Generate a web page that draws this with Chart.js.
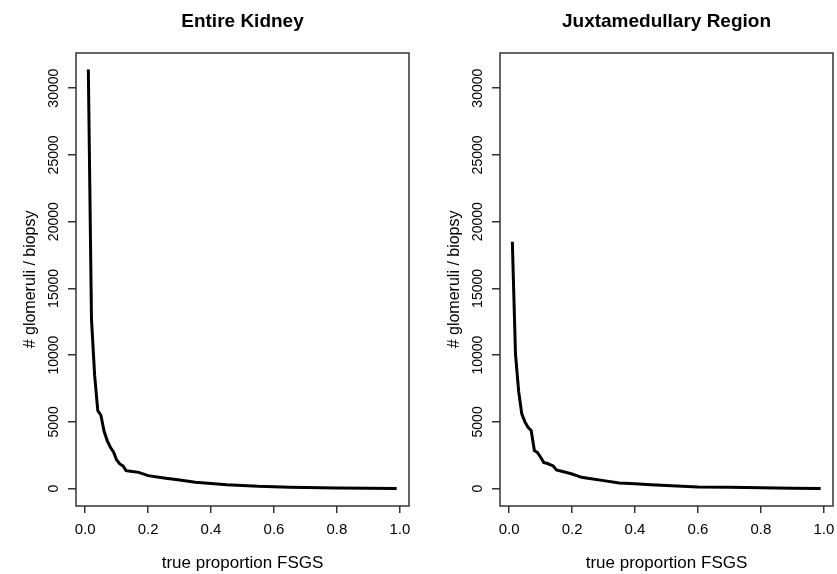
<!DOCTYPE html>
<html>
<head>
<meta charset="utf-8">
<script src="https://cdn.jsdelivr.net/npm/chart.js"></script>
<style>
  body { margin: 0; background: #fff; }
  canvas { position: absolute; top: 0; }
  #kidneyChart { left: 0; }
  #juxtaChart { left: 424px; }
</style>
</head>
<body>
<canvas id="kidneyChart" width="418" height="574"></canvas>
<canvas id="juxtaChart" width="413" height="574"></canvas>
<script>
// ENTIRE KIDNEY
const kidneyP = [0.01, 0.02, 0.03, 0.04, 0.05, 0.06, 0.07, 0.08, 0.09, 0.10, 0.11, 0.12, 0.13, 0.15, 0.17, 0.20,
  0.25, 0.30, 0.35, 0.40, 0.45, 0.50, 0.55, 0.60, 0.65, 0.70, 0.80, 0.90, 0.99];
const kidneyN = [31400, 12700, 8500, 5850, 5500, 4300, 3600, 3100, 2750, 2150, 1850, 1700, 1350, 1280, 1220, 975,
  800, 640, 480, 390, 300, 240, 180, 150, 110, 80, 50, 30, 15];

// JUXTAMEDULLARY REGION
const juxtaP = [0.01, 0.02, 0.03, 0.04, 0.05, 0.06, 0.07, 0.08, 0.09, 0.10, 0.11, 0.12, 0.13, 0.14, 0.15, 0.17, 0.20,
  0.23, 0.25, 0.30, 0.35, 0.40, 0.45, 0.50, 0.55, 0.60, 0.70, 0.80, 0.90, 0.99];
const juxtaN = [18500, 10100, 7300, 5600, 5000, 4600, 4350, 2850, 2700, 2350, 1950, 1900, 1800, 1700, 1400, 1280, 1100,
  850, 780, 600, 420, 360, 300, 230, 180, 120, 100, 60, 30, 15];

const xTicks = [0, 0.2, 0.4, 0.6, 0.8, 1.0];
const yTicks = [0, 5000, 10000, 15000, 20000, 25000, 30000];

const FONT = "'Liberation Sans', Arial, Helvetica, sans-serif";

// R style box round the plot region
const boxPlugin = {
  id: 'box',
  afterDraw(chart) {
    const ctx = chart.ctx;
    const a = chart.chartArea;
    ctx.save();
    ctx.strokeStyle = '#333';
    ctx.lineWidth = 1.5;
    ctx.strokeRect(Math.round(a.left), Math.round(a.top), Math.round(a.right - a.left), Math.round(a.bottom - a.top));
    ctx.restore();
  }
};

function makeChart(id, title, xs, ys, padRight) {
  const points = xs.map((x, i) => ({ x: x, y: ys[i] }));

  return new Chart(document.getElementById(id), {
    type: 'line',
    data: {
      datasets: [{
        data: points,
        borderColor: '#000',
        borderWidth: 3,
        pointRadius: 0,
        tension: 0,
        fill: false
      }]
    },
    options: {
      responsive: false,
      animation: false,
      layout: { padding: { right: padRight } },
      plugins: {
        legend: { display: false },
        tooltip: { enabled: false },
        title: {
          display: true,
          text: title,
          fullSize: false,
          color: '#000',
          font: { family: FONT, size: 19, weight: 'bold' },
          padding: { top: 10, bottom: 20 }
        }
      },
      scales: {
        x: {
          type: 'linear',
          min: -0.0292,
          max: 1.0292,
          afterBuildTicks: s => { s.ticks = xTicks.map(v => ({ value: v })); },
          afterFit: s => { s.height = 68; s.paddingLeft = 0; s.paddingRight = 0; },
          grid: { drawOnChartArea: false, drawTicks: true, tickLength: 7, color: '#333', lineWidth: 1.5 },
          border: { display: false },
          ticks: {
            color: '#000',
            font: { family: FONT, size: 15 },
            padding: 8,
            maxRotation: 0,
            autoSkip: false,
            callback: v => Number(v).toFixed(1)
          },
          title: {
            display: true,
            text: 'true proportion FSGS',
            color: '#000',
            font: { family: FONT, size: 17 },
            padding: { top: 0, bottom: 0 }
          }
        },
        y: {
          min: -1300,
          max: 32650,
          afterBuildTicks: s => { s.ticks = yTicks.map(v => ({ value: v })); },
          afterFit: s => { s.width = 76; s.paddingTop = 0; s.paddingBottom = 0; },
          grid: { drawOnChartArea: false, drawTicks: true, tickLength: 8, color: '#333', lineWidth: 1.5 },
          border: { display: false },
          ticks: {
            color: '#000',
            font: { family: FONT, size: 14 },
            padding: -6,
            minRotation: 90,
            maxRotation: 90,
            crossAlign: 'center',
            autoSkip: false,
            callback: v => String(v)
          },
          title: {
            display: true,
            text: '# glomeruli / biopsy',
            color: '#000',
            font: { family: FONT, size: 16 },
            padding: { top: 21, bottom: 0 }
          }
        }
      }
    },
    plugins: [boxPlugin]
  });
}

makeChart('kidneyChart', 'Entire Kidney', kidneyP, kidneyN, 9);
makeChart('juxtaChart', 'Juxtamedullary Region', juxtaP, juxtaN, 4);
</script>
</body>
</html>
